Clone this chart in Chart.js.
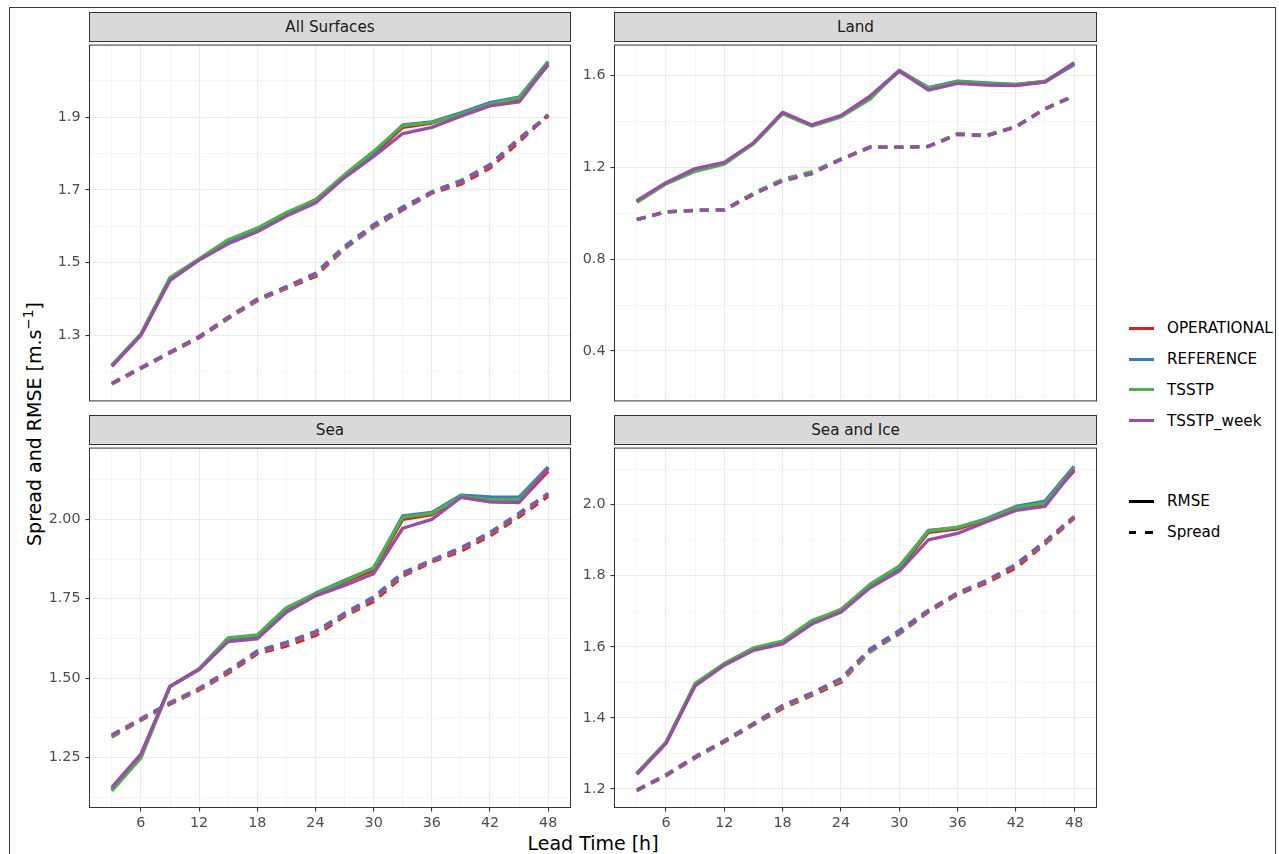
<!DOCTYPE html>
<html>
<head>
<meta charset="utf-8">
<script src="https://cdn.jsdelivr.net/npm/chart.js@4.4.1/dist/chart.umd.min.js"></script>
<style>
  html, body { margin: 0; padding: 0; background: #ffffff; }
  body { width: 1279px; height: 854px; overflow: hidden; position: relative; font-family: "DejaVu Sans", sans-serif; }
  .frame { position: absolute; left: 9px; top: 7px; width: 1265px; height: 870px; border: 1px solid #3a3a3a; }
  .strip { position: absolute; box-sizing: border-box; background: #D9D9D9; border: 1px solid #333333;
           color: #1A1A1A; font-size: 15.2px; text-align: center; display: flex; align-items: center; justify-content: center; }
  canvas { position: absolute; }
  .ytitle { position: absolute; width: 500px; height: 30px; line-height: 30px; text-align: center;
            left: -222px; top: 409px; transform: rotate(-90deg); font-size: 19px; color: #000; white-space: nowrap; }
  .xtitle { position: absolute; left: 393px; width: 400px; top: 831px; height: 24px; line-height: 24px; text-align: center;
            font-size: 19px; color: #000; }
  .lkey { position: absolute; height: 3px; }
  .ltext { position: absolute; font-size: 15.2px; color: #000; height: 20px; line-height: 20px; white-space: nowrap; }
</style>
</head>
<body>
<div class="frame"></div>
<div class="ytitle">Spread and RMSE [m.s<span style="font-size:0.72em;vertical-align:0.55em">−1</span>]</div>
<div class="xtitle">Lead Time [h]</div>
<div id="legend"></div>
<script>
// ---------------- data ----------------
const leadTimes = [3, 6, 9, 12, 15, 18, 21, 24, 27, 30, 33, 36, 39, 42, 45, 48];
const models = ['OPERATIONAL', 'REFERENCE', 'TSSTP', 'TSSTP_week'];
const metrics = ['RMSE', 'Spread'];
const panelTitles = ['All Surfaces', 'Land', 'Sea', 'Sea and Ice'];

const xMajorTicks = [6, 12, 18, 24, 30, 36, 42, 48];
const xMinorTicks = [3, 9, 15, 21, 27, 33, 39, 45];

// All Surfaces
const allRmseOperational = [1.216, 1.302, 1.456, 1.508, 1.559, 1.591, 1.633, 1.673, 1.737, 1.799, 1.872, 1.884, 1.909, 1.937, 1.950, 2.044];
const allRmseReference   = [1.216, 1.302, 1.456, 1.509, 1.560, 1.592, 1.634, 1.670, 1.739, 1.802, 1.879, 1.887, 1.912, 1.940, 1.955, 2.053];
const allRmseTsstp       = [1.218, 1.304, 1.459, 1.510, 1.563, 1.595, 1.638, 1.672, 1.742, 1.806, 1.877, 1.886, 1.908, 1.936, 1.953, 2.050];
const allRmseTsstpWeek   = [1.215, 1.300, 1.451, 1.507, 1.552, 1.585, 1.628, 1.664, 1.734, 1.792, 1.855, 1.872, 1.903, 1.931, 1.942, 2.046];
const allSpreadOperational = [1.166, 1.209, 1.251, 1.293, 1.346, 1.395, 1.429, 1.462, 1.538, 1.597, 1.645, 1.691, 1.716, 1.760, 1.832, 1.907];
const allSpreadReference   = [1.168, 1.211, 1.254, 1.297, 1.350, 1.400, 1.434, 1.471, 1.545, 1.605, 1.653, 1.695, 1.726, 1.770, 1.842, 1.905];
const allSpreadTsstp       = [1.167, 1.210, 1.252, 1.295, 1.347, 1.397, 1.431, 1.467, 1.538, 1.598, 1.647, 1.692, 1.721, 1.766, 1.838, 1.903];
const allSpreadTsstpWeek   = [1.168, 1.211, 1.253, 1.296, 1.349, 1.399, 1.433, 1.469, 1.541, 1.601, 1.648, 1.693, 1.722, 1.767, 1.839, 1.903];

// Land
const landRmseOperational = [1.052, 1.131, 1.190, 1.219, 1.305, 1.437, 1.383, 1.424, 1.507, 1.620, 1.542, 1.571, 1.564, 1.560, 1.573, 1.652];
const landRmseReference   = [1.051, 1.131, 1.188, 1.218, 1.305, 1.437, 1.383, 1.423, 1.506, 1.620, 1.548, 1.576, 1.568, 1.562, 1.574, 1.647];
const landRmseTsstp       = [1.047, 1.128, 1.183, 1.214, 1.303, 1.434, 1.380, 1.420, 1.498, 1.624, 1.546, 1.574, 1.566, 1.561, 1.576, 1.652];
const landRmseTsstpWeek   = [1.055, 1.133, 1.195, 1.222, 1.307, 1.440, 1.385, 1.426, 1.511, 1.621, 1.537, 1.566, 1.559, 1.556, 1.572, 1.657];
const landSpreadOperational = [0.972, 1.006, 1.012, 1.014, 1.082, 1.145, 1.178, 1.234, 1.287, 1.287, 1.291, 1.344, 1.338, 1.376, 1.454, 1.511];
const landSpreadReference   = [0.972, 1.006, 1.012, 1.016, 1.086, 1.146, 1.179, 1.236, 1.289, 1.288, 1.292, 1.346, 1.340, 1.378, 1.455, 1.512];
const landSpreadTsstp       = [0.972, 1.006, 1.013, 1.016, 1.088, 1.148, 1.181, 1.236, 1.288, 1.287, 1.292, 1.346, 1.340, 1.378, 1.455, 1.512];
const landSpreadTsstpWeek   = [0.973, 1.007, 1.013, 1.015, 1.083, 1.140, 1.172, 1.234, 1.289, 1.288, 1.291, 1.344, 1.337, 1.377, 1.456, 1.513];

// Sea
const seaRmseOperational = [1.150, 1.256, 1.474, 1.528, 1.624, 1.632, 1.718, 1.764, 1.803, 1.840, 2.000, 2.015, 2.070, 2.056, 2.054, 2.152];
const seaRmseReference   = [1.150, 1.255, 1.474, 1.529, 1.625, 1.634, 1.719, 1.767, 1.808, 1.846, 2.011, 2.022, 2.076, 2.071, 2.070, 2.165];
const seaRmseTsstp       = [1.145, 1.249, 1.473, 1.528, 1.627, 1.636, 1.722, 1.765, 1.806, 1.848, 2.006, 2.019, 2.072, 2.063, 2.062, 2.160];
const seaRmseTsstpWeek   = [1.156, 1.261, 1.474, 1.527, 1.615, 1.624, 1.707, 1.759, 1.792, 1.829, 1.972, 2.000, 2.069, 2.055, 2.053, 2.162];
const seaSpreadOperational = [1.314, 1.367, 1.418, 1.462, 1.515, 1.577, 1.601, 1.634, 1.695, 1.741, 1.821, 1.866, 1.899, 1.948, 2.008, 2.073];
const seaSpreadReference   = [1.321, 1.372, 1.423, 1.468, 1.524, 1.586, 1.613, 1.647, 1.705, 1.756, 1.832, 1.872, 1.911, 1.959, 2.020, 2.082];
const seaSpreadTsstp       = [1.316, 1.369, 1.420, 1.465, 1.519, 1.581, 1.608, 1.642, 1.699, 1.749, 1.826, 1.869, 1.906, 1.954, 2.014, 2.080];
const seaSpreadTsstpWeek   = [1.320, 1.371, 1.421, 1.467, 1.521, 1.583, 1.610, 1.644, 1.701, 1.751, 1.828, 1.870, 1.908, 1.956, 2.016, 2.081];

// Sea and Ice
const iceRmseOperational = [1.243, 1.330, 1.494, 1.552, 1.594, 1.613, 1.670, 1.705, 1.771, 1.820, 1.922, 1.932, 1.958, 1.990, 2.003, 2.096];
const iceRmseReference   = [1.243, 1.330, 1.494, 1.552, 1.594, 1.613, 1.671, 1.702, 1.772, 1.822, 1.928, 1.935, 1.961, 1.995, 2.010, 2.108];
const iceRmseTsstp       = [1.244, 1.331, 1.497, 1.553, 1.597, 1.616, 1.674, 1.704, 1.776, 1.827, 1.926, 1.937, 1.959, 1.992, 2.005, 2.104];
const iceRmseTsstpWeek   = [1.241, 1.328, 1.490, 1.548, 1.590, 1.608, 1.664, 1.697, 1.766, 1.813, 1.901, 1.919, 1.952, 1.984, 1.995, 2.100];
const iceSpreadOperational = [1.195, 1.237, 1.287, 1.332, 1.380, 1.427, 1.463, 1.500, 1.587, 1.636, 1.698, 1.747, 1.780, 1.822, 1.889, 1.962];
const iceSpreadReference   = [1.197, 1.240, 1.291, 1.336, 1.384, 1.435, 1.470, 1.511, 1.594, 1.646, 1.703, 1.752, 1.787, 1.832, 1.897, 1.967];
const iceSpreadTsstp       = [1.196, 1.238, 1.288, 1.333, 1.381, 1.431, 1.466, 1.505, 1.585, 1.637, 1.700, 1.750, 1.784, 1.828, 1.893, 1.965];
const iceSpreadTsstpWeek   = [1.197, 1.239, 1.290, 1.335, 1.383, 1.434, 1.469, 1.509, 1.591, 1.640, 1.701, 1.751, 1.785, 1.830, 1.896, 1.966];

// y tick values / labels per panel
const allYMajor = [1.3, 1.5, 1.7, 1.9];
const allYLabels = ['1.3', '1.5', '1.7', '1.9'];
const allYMinor = [1.2, 1.4, 1.6, 1.8, 2.0];
const landYMajor = [0.4, 0.8, 1.2, 1.6];
const landYLabels = ['0.4', '0.8', '1.2', '1.6'];
const landYMinor = [0.2, 0.6, 1.0, 1.4];
const seaYMajor = [1.25, 1.5, 1.75, 2.0];
const seaYLabels = ['1.25', '1.50', '1.75', '2.00'];
const seaYMinor = [1.125, 1.375, 1.625, 1.875, 2.125];
const iceYMajor = [1.2, 1.4, 1.6, 1.8, 2.0];
const iceYLabels = ['1.2', '1.4', '1.6', '1.8', '2.0'];
const iceYMinor = [1.3, 1.5, 1.7, 1.9, 2.1];

// ---------------- styling / layout ----------------
const modelColors = ['#E41A1C', '#377EB8', '#4DAF4A', '#984EA3'];
const metricDash = [[], [9, 7]];
const xRange = [0.75, 50.25];

const panels = [
  { title: panelTitles[0], rmse: [allRmseOperational, allRmseReference, allRmseTsstp, allRmseTsstpWeek],
    spread: [allSpreadOperational, allSpreadReference, allSpreadTsstp, allSpreadTsstpWeek],
    yMajor: allYMajor, yLabels: allYLabels, yMinor: allYMinor, yRange: [1.121, 2.097],
    left: 90, top: 42, w: 480, h: 362, bottom: false },
  { title: panelTitles[1], rmse: [landRmseOperational, landRmseReference, landRmseTsstp, landRmseTsstpWeek],
    spread: [landSpreadOperational, landSpreadReference, landSpreadTsstp, landSpreadTsstpWeek],
    yMajor: landYMajor, yLabels: landYLabels, yMinor: landYMinor, yRange: [0.184, 1.731],
    left: 615, top: 42, w: 481, h: 362, bottom: false },
  { title: panelTitles[2], rmse: [seaRmseOperational, seaRmseReference, seaRmseTsstp, seaRmseTsstpWeek],
    spread: [seaSpreadOperational, seaSpreadReference, seaSpreadTsstp, seaSpreadTsstpWeek],
    yMajor: seaYMajor, yLabels: seaYLabels, yMinor: seaYMinor, yRange: [1.094, 2.223],
    left: 90, top: 445, w: 480, h: 362, bottom: true },
  { title: panelTitles[3], rmse: [iceRmseOperational, iceRmseReference, iceRmseTsstp, iceRmseTsstpWeek],
    spread: [iceSpreadOperational, iceSpreadReference, iceSpreadTsstp, iceSpreadTsstpWeek],
    yMajor: iceYMajor, yLabels: iceYLabels, yMinor: iceYMinor, yRange: [1.149, 2.158],
    left: 615, top: 445, w: 481, h: 362, bottom: true }
];

const panelBorder = {
  id: 'panelBorder',
  afterDraw(chart) {
    const { ctx, chartArea: a } = chart;
    ctx.save();
    ctx.strokeStyle = '#333333';
    ctx.lineWidth = 1;
    ctx.strokeRect(a.left - 0.5, a.top - 0.5, a.right - a.left + 1, a.bottom - a.top + 1);
    ctx.restore();
  }
};

const near = (arr, v) => arr.findIndex(t => Math.abs(t - v) < 1e-9);
const tickFont = { family: 'DejaVu Sans', size: 14.3 };

panels.forEach((p) => {
  // strip
  const s = document.createElement('div');
  s.className = 'strip';
  s.style.left = (p.left - 1) + 'px';
  s.style.top = (p.top - 30) + 'px';
  s.style.width = (p.w + 2) + 'px';
  s.style.height = '30px';
  s.textContent = p.title;
  document.body.appendChild(s);

  const PAD = 10, YW = 70, XH = p.bottom ? 40 : 0;
  const W = YW + p.w + PAD;
  const H = PAD + p.h + (p.bottom ? XH : PAD);
  const cv = document.createElement('canvas');
  cv.width = W; cv.height = H;
  cv.style.width = W + 'px'; cv.style.height = H + 'px';
  cv.style.left = (p.left - YW) + 'px';
  cv.style.top = (p.top - PAD) + 'px';
  document.body.appendChild(cv);

  const datasets = [];
  let k = 0;
  models.forEach((m, i) => {
    [p.rmse[i], p.spread[i]].forEach((vals, mi) => {
      datasets.push({
        label: m + ' ' + metrics[mi],
        data: leadTimes.map((x, j) => ({ x: x, y: vals[j] })),
        borderColor: modelColors[i],
        backgroundColor: modelColors[i],
        borderWidth: 3.3,
        borderDash: metricDash[mi],
        borderCapStyle: 'butt',
        borderJoinStyle: 'round',
        pointRadius: 0,
        tension: 0,
        fill: false,
        order: 7 - k
      });
      k++;
    });
  });

  const xAll = xMajorTicks.concat(xMinorTicks).sort((a, b) => a - b);
  const yAll = p.yMajor.concat(p.yMinor).sort((a, b) => a - b);

  new Chart(cv, {
    type: 'line',
    data: { datasets },
    options: {
      responsive: false,
      animation: false,
      devicePixelRatio: 1,
      layout: { padding: { left: 0, top: PAD, right: PAD, bottom: p.bottom ? 0 : PAD } },
      plugins: { legend: { display: false }, tooltip: { enabled: false } },
      scales: {
        x: {
          type: 'linear', min: xRange[0], max: xRange[1],
          afterBuildTicks: (sc) => { sc.ticks = xAll.map(v => ({ value: v })); },
          afterFit: (sc) => { sc.height = XH; },
          border: { display: false },
          grid: {
            drawTicks: p.bottom,
            tickLength: 4.5,
            tickWidth: 1.1,
            tickColor: (c) => (c.tick && near(xMajorTicks, c.tick.value) >= 0) ? '#333333' : 'rgba(0,0,0,0)',
            color: (c) => (c.tick && near(xMajorTicks, c.tick.value) >= 0) ? '#EBEBEB' : '#EEEEEE',
            lineWidth: (c) => (c.tick && near(xMajorTicks, c.tick.value) >= 0) ? 1.1 : 0.6
          },
          ticks: {
            display: p.bottom, autoSkip: false, maxRotation: 0, minRotation: 0, padding: 3,
            color: '#4D4D4D', font: tickFont,
            callback: (v) => near(xMajorTicks, v) >= 0 ? String(v) : ''
          }
        },
        y: {
          type: 'linear', min: p.yRange[0], max: p.yRange[1],
          afterBuildTicks: (sc) => { sc.ticks = yAll.map(v => ({ value: v })); },
          afterFit: (sc) => { sc.width = YW; },
          border: { display: false },
          grid: {
            drawTicks: true,
            tickLength: 4.5,
            tickWidth: 1.1,
            tickColor: (c) => (c.tick && near(p.yMajor, c.tick.value) >= 0) ? '#333333' : 'rgba(0,0,0,0)',
            color: (c) => (c.tick && near(p.yMajor, c.tick.value) >= 0) ? '#EBEBEB' : '#EEEEEE',
            lineWidth: (c) => (c.tick && near(p.yMajor, c.tick.value) >= 0) ? 1.1 : 0.6
          },
          ticks: {
            autoSkip: false, padding: 5, color: '#4D4D4D', font: tickFont,
            callback: (v) => { const i = near(p.yMajor, v); return i >= 0 ? p.yLabels[i] : ''; }
          }
        }
      }
    },
    plugins: [panelBorder]
  });
});

// ---------------- legend ----------------
const legend = document.getElementById('legend');
const legendY = [328, 359, 389.5, 420.5];
models.forEach((m, i) => {
  const key = document.createElement('div');
  key.className = 'lkey';
  key.style.left = '1129px'; key.style.width = '25px';
  key.style.top = (legendY[i] - 1.5) + 'px';
  key.style.background = modelColors[i];
  legend.appendChild(key);
  const t = document.createElement('div');
  t.className = 'ltext';
  t.style.left = '1167px'; t.style.top = (legendY[i] - 10) + 'px';
  t.textContent = m;
  legend.appendChild(t);
});
const metricY = [501, 532];
metrics.forEach((m, i) => {
  const segs = i === 0 ? [[1129, 25]] : [[1129, 7], [1145, 8]];
  segs.forEach(([x, w]) => {
    const key = document.createElement('div');
    key.className = 'lkey';
    key.style.left = x + 'px'; key.style.width = w + 'px';
    key.style.top = (metricY[i] - 1.5) + 'px';
    key.style.background = '#000';
    legend.appendChild(key);
  });
  const t = document.createElement('div');
  t.className = 'ltext';
  t.style.left = '1167px'; t.style.top = (metricY[i] - 10) + 'px';
  t.textContent = m;
  legend.appendChild(t);
});
</script>
</body>
</html>
